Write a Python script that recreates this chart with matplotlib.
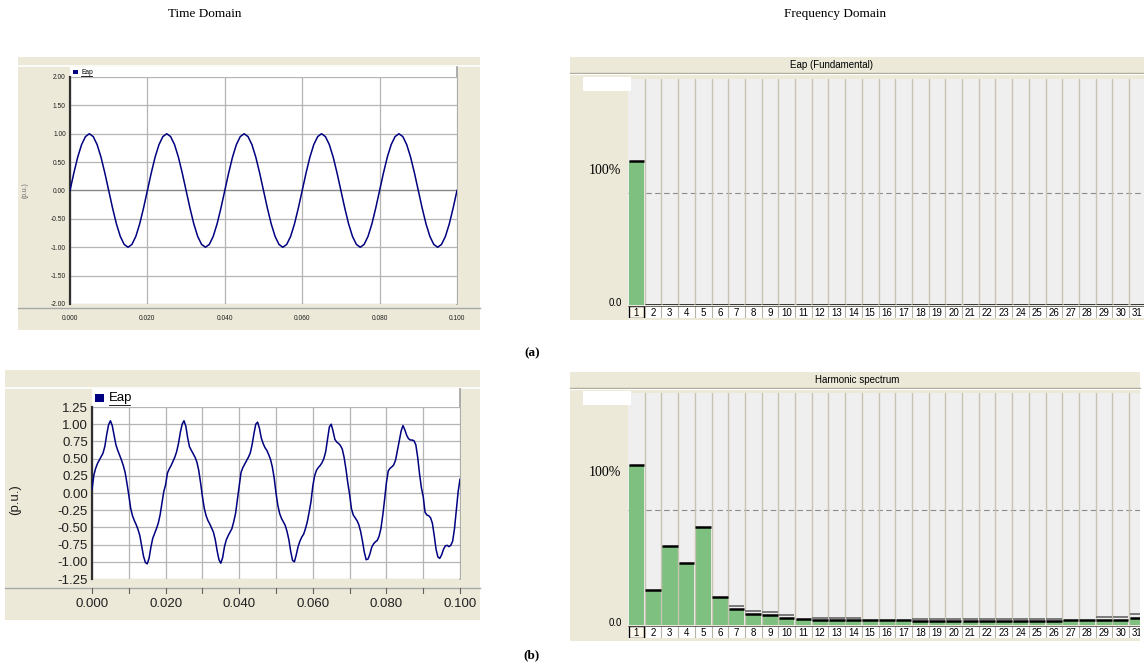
import numpy as np
import matplotlib.pyplot as plt
from matplotlib.patches import Rectangle
from matplotlib.lines import Line2D
from matplotlib.ticker import FormatStrFormatter

W, H = 1144, 667

# Eap, pure supply (a): one sample per ms over 0.1 s
t_a = np.linspace(0, 0.1, 101)
eap_a = [
    0.00, 0.31, 0.59, 0.81, 0.95, 1.00, 0.95, 0.81, 0.59, 0.31,
    0.00, -0.31, -0.59, -0.81, -0.95, -1.00, -0.95, -0.81, -0.59, -0.31,
    0.00, 0.31, 0.59, 0.81, 0.95, 1.00, 0.95, 0.81, 0.59, 0.31,
    0.00, -0.31, -0.59, -0.81, -0.95, -1.00, -0.95, -0.81, -0.59, -0.31,
    0.00, 0.31, 0.59, 0.81, 0.95, 1.00, 0.95, 0.81, 0.59, 0.31,
    0.00, -0.31, -0.59, -0.81, -0.95, -1.00, -0.95, -0.81, -0.59, -0.31,
    0.00, 0.31, 0.59, 0.81, 0.95, 1.00, 0.95, 0.81, 0.59, 0.31,
    0.00, -0.31, -0.59, -0.81, -0.95, -1.00, -0.95, -0.81, -0.59, -0.31,
    0.00, 0.31, 0.59, 0.81, 0.95, 1.00, 0.95, 0.81, 0.59, 0.31,
    0.00, -0.31, -0.59, -0.81, -0.95, -1.00, -0.95, -0.81, -0.59, -0.31,
    0.00,
]

# Eap, distorted supply (b): one sample per 0.5 ms over 0.1 s
t_b = np.linspace(0, 0.1, 201)
eap_b = [
    0.05, 0.26, 0.36, 0.43, 0.48, 0.53, 0.58, 0.68, 0.85, 0.99,
    1.05, 0.98, 0.84, 0.70, 0.62, 0.55, 0.48, 0.40, 0.30, 0.14,
    -0.03, -0.22, -0.33, -0.40, -0.46, -0.53, -0.62, -0.77, -0.92, -1.01,
    -1.03, -0.95, -0.79, -0.66, -0.59, -0.52, -0.44, -0.32, -0.15, 0.02,
    0.12, 0.29, 0.35, 0.40, 0.46, 0.52, 0.60, 0.72, 0.88, 1.00,
    1.05, 0.97, 0.80, 0.67, 0.62, 0.57, 0.52, 0.45, 0.33, 0.15,
    -0.05, -0.22, -0.33, -0.40, -0.45, -0.51, -0.57, -0.68, -0.84, -0.97,
    -1.02, -0.94, -0.78, -0.68, -0.62, -0.57, -0.52, -0.42, -0.30, -0.10,
    0.10, 0.30, 0.37, 0.42, 0.47, 0.52, 0.58, 0.70, 0.86, 1.00,
    1.03, 0.94, 0.80, 0.72, 0.66, 0.62, 0.56, 0.49, 0.38, 0.22,
    0.00, -0.18, -0.30, -0.37, -0.42, -0.47, -0.56, -0.68, -0.85, -0.98,
    -1.00, -0.90, -0.78, -0.70, -0.64, -0.60, -0.52, -0.42, -0.28, -0.13,
    0.10, 0.25, 0.33, 0.37, 0.40, 0.44, 0.50, 0.60, 0.78, 0.96,
    1.00, 0.90, 0.78, 0.74, 0.72, 0.69, 0.64, 0.52, 0.35, 0.15,
    -0.02, -0.23, -0.32, -0.36, -0.40, -0.46, -0.56, -0.70, -0.86, -0.97,
    -0.96, -0.89, -0.79, -0.74, -0.71, -0.69, -0.63, -0.52, -0.33, -0.10,
    0.15, 0.32, 0.36, 0.38, 0.41, 0.48, 0.62, 0.76, 0.90, 0.98,
    0.92, 0.84, 0.79, 0.77, 0.77, 0.76, 0.70, 0.52, 0.28, 0.08,
    -0.05, -0.28, -0.32, -0.33, -0.36, -0.44, -0.62, -0.82, -0.93, -0.95,
    -0.90, -0.82, -0.77, -0.76, -0.78, -0.76, -0.70, -0.52, -0.25, 0.02,
    0.20,
]

# harmonic spectra, % of fundamental
harmonics = list(range(1, 32))
fund_values = [100.0] + [0.0] * 30
fund_peaks = [0.0] * 31
harm_values = [100.0, 21.9, 49.6, 38.9, 61.0, 17.2, 9.8, 7.1, 6.2, 4.6,
               3.9, 2.9, 2.9, 2.9, 3.1, 3.3, 3.3, 2.2, 2.2, 2.2,
               2.2, 2.2, 2.2, 2.2, 2.2, 2.2, 3.1, 3.1, 3.1, 3.1, 4.2]
harm_peaks = [0.0, 0.0, 0.0, 0.0, 0.0, 0.0, 11.9, 8.9, 7.9, 6.5,
              0.0, 4.4, 4.4, 4.4, 0.0, 0.0, 0.0, 3.5, 3.5, 3.5,
              3.5, 3.5, 3.5, 3.5, 3.5, 3.5, 0.0, 0.0, 4.8, 4.8, 6.7]
fund_ref = 77.8
harm_ref = 71.9

BEIGE = '#ECE9D8'
NAVY = '#000080'
GREEN = '#7DC07F'
SANS = ['Liberation Sans', 'DejaVu Sans']
SERIF = ['Liberation Serif', 'DejaVu Serif']

fig = plt.figure(figsize=(W / 100, H / 100), dpi=100)


def box(x0, y0, x1, y1):
    return [x0 / W, 1 - y1 / H, (x1 - x0) / W, (y1 - y0) / H]


def fill(x0, y0, x1, y1, color, z=-1, edge='none'):
    fig.add_artist(Rectangle((x0 / W, 1 - y1 / H), (x1 - x0) / W, (y1 - y0) / H,
                             transform=fig.transFigure, facecolor=color,
                             edgecolor=edge, lw=0.8, zorder=z))


def line(xs, ys, color, lw=1.0, z=-0.5):
    fig.add_artist(Line2D([x / W for x in xs], [1 - y / H for y in ys],
                          transform=fig.transFigure, color=color, lw=lw, zorder=z))


def text(x, y, s, **kw):
    fig.text(x / W, 1 - y / H, s, **kw)


def time_plot(t, y, frame, area, legend_y, ylim, ystep, fs, lab_x, lab_y, lab_fs, lab_col):
    x0, y0, x1, y1 = frame
    ax0, ay0, ax1, ay1 = area
    fill(x0, y0, x1, y1, BEIGE)
    line([x0, x1], [legend_y - 1, legend_y - 1], 'white', 1.2)
    fill(ax0, legend_y, ax1, ay0, 'white', z=-0.8)
    line([ax1, ax1], [legend_y, ay1], '#A0A0A0', 1.2)
    # legend entry
    sq = (ay0 - legend_y) * 0.4
    cy = (legend_y + ay0) / 2
    fill(ax0 + 3, cy - sq / 2, ax0 + 3 + sq * 1.3, cy + sq / 2, NAVY, z=1)
    text(ax0 + 5 + sq * 1.6, cy, 'Eap', fontsize=fs, family=SANS, va='center', ha='left')
    line([ax0 + 5 + sq * 1.6, ax0 + 5 + sq * 1.6 + fs * 2.3], [cy + fs * 0.75, cy + fs * 0.75], 'black', 0.6, z=1)

    ax = fig.add_axes(box(ax0, ay0, ax1, ay1))
    ax.plot(t, y, color=NAVY, lw=1.1, zorder=3)
    ax.set_xlim(0, 0.1)
    ax.set_ylim(-ylim, ylim)
    ax.set_yticks(np.arange(-ylim, ylim + 1e-9, ystep))
    ax.set_xticks(np.arange(0, 0.1001, 0.02))
    ax.grid(True, color='#B4B4B4', lw=0.9)
    ax.xaxis.set_major_formatter(FormatStrFormatter('%.3f'))
    ax.yaxis.set_major_formatter(FormatStrFormatter('%.2f'))
    for s in ['top', 'right', 'bottom']:
        ax.spines[s].set_visible(False)
    ax.spines['left'].set_color('#303030')
    ax.spines['left'].set_linewidth(1.6)
    ax.tick_params(length=0, labelsize=fs, labelcolor='#202020')
    for lbl in ax.get_xticklabels() + ax.get_yticklabels():
        lbl.set_family(SANS)
    text(lab_x, lab_y, '(p.u.)', fontsize=lab_fs, family=SANS, rotation=90,
         ha='center', va='center', color=lab_col)
    return ax


# (a) time domain
ax = time_plot(t_a, eap_a, (18, 57, 480, 330), (70, 77, 457, 304), 67, 2.0, 0.5,
               4.8, 25, 190, 4.8, '#666666')
ax.axhline(0, color='#888888', lw=0.9, zorder=2)
ax.tick_params(axis='x', pad=8)
ax.tick_params(axis='y', pad=3)
line([18, 480], [308, 308], '#A8A8A8', 1.0)

# (b) time domain
ax = time_plot(t_b, eap_b, (5, 370, 480, 620), (92, 407, 460, 579), 389, 1.25, 0.25,
               9.5, 15, 500, 9.5, '#202020')
ax.set_xticks(np.arange(0, 0.1001, 0.01), minor=True)
ax.grid(True, which='minor', axis='x', color='#B4B4B4', lw=0.9)
ax.tick_params(which='both', length=0)
ax.tick_params(axis='x', pad=14)
ax.tick_params(axis='y', pad=3)
line([5, 480], [588, 588], '#A8A8A8', 1.0)
for xt in np.arange(0, 0.1001, 0.01):
    xp = 92 + xt / 0.1 * (460 - 92)
    line([xp, xp], [588, 593], '#606060', 0.8)


def spectrum_plot(values, peaks, ref, ymax, title, title_x, frame, col_top, col_bot, y100):
    x0, y0, x1, y1 = frame
    fill(x0, y0, x1, y1, BEIGE)
    line([x0, x1], [y0 + 15.5, y0 + 15.5], '#ACA899', 1.0)
    line([x0, x1], [y0 + 16.5, y0 + 16.5], 'white', 0.8)
    text(title_x, y0 + 8, title, fontsize=7, family=['Liberation Sans Narrow'] + SANS,
         ha='center', va='center')
    fill(583, col_top - 2, 631, col_top + 12, 'white', z=5)
    text(589, y100, '100%', fontsize=10, family=SERIF, ha='left', va='center')
    text(622, col_bot - 2, '0.0', fontsize=7, family=SANS, ha='right', va='center')

    ncols = (x1 - 628) / 16.7
    ax = fig.add_axes(box(628, col_top, x1, col_bot))
    ax.set_facecolor('#EFEFEF')
    ax.set_xlim(0.5, 0.5 + ncols)
    ax.set_ylim(0, ymax)
    ax.bar(harmonics, values, width=0.94, color=GREEN, zorder=2)
    for h, v, p in zip(harmonics, values, peaks):
        if p > v:
            ax.hlines(p, h - 0.47, h + 0.47, color='#7A7A7A', lw=1.4, zorder=4)
        ax.hlines(v, h - 0.47, h + 0.47, color='black', lw=1.8, zorder=4)
    for k in range(1, 33):
        ax.axvline(k + 0.5, color='#C7C3B3', lw=1.0, zorder=3)
    ax.axhline(ref, color='#8C8C8C', lw=0.8, ls=(0, (5, 3)), zorder=1)
    ax.set_xticks([])
    ax.set_yticks([])
    for s in ax.spines.values():
        s.set_visible(False)

    # harmonic order labels
    lab = fig.add_axes(box(628, col_bot + 1, x1, col_bot + 13))
    lab.set_facecolor('white')
    lab.set_xlim(0.5, 0.5 + ncols)
    lab.set_ylim(0, 1)
    lab.add_patch(Rectangle((0.55, 0.02), 0.9, 0.96, facecolor='#FFF8EC',
                            edgecolor='black', lw=1.0, zorder=2))
    for h in harmonics:
        t = lab.text(h, 0.45, str(h), fontsize=7, family=SANS, ha='center', va='center',
                     zorder=3, clip_on=True)
        t.set_clip_box(lab.bbox)
        lab.axvline(h + 0.5, color='#B8B4A4', lw=0.8)
    lab.axhline(0.98, color='#505050', lw=0.6)
    lab.set_xticks([])
    lab.set_yticks([])
    for s in lab.spines.values():
        s.set_visible(False)


spectrum_plot(fund_values, fund_peaks, fund_ref, 157, 'Eap (Fundamental)', 831,
              (570, 57, 1144, 320), 79, 305, 170)
spectrum_plot(harm_values, harm_peaks, harm_ref, 145, 'Harmonic spectrum', 857,
              (570, 372, 1140, 641), 393, 625, 473)

text(205, 14, 'Time Domain', fontsize=9.5, family=SERIF, ha='center', va='center')
text(835, 14, 'Frequency Domain', fontsize=9.5, family=SERIF, ha='center', va='center')
text(532, 353, '(a)', fontsize=9.5, family=SERIF, weight='bold', ha='center', va='center')
text(532, 655, '(b)', fontsize=9.5, family=SERIF, weight='bold', ha='center', va='center')

fig.savefig('out.png', dpi=100)
